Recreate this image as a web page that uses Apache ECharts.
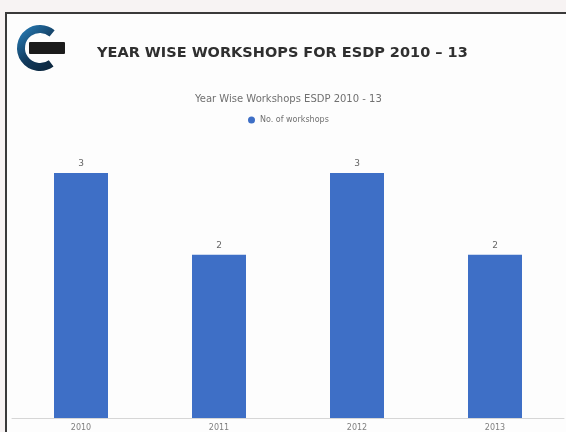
<!DOCTYPE html>
<html>
<head>
<meta charset="utf-8">
<script src="https://cdn.jsdelivr.net/npm/echarts@6/dist/echarts.min.js"></script>
<style>
  html, body { margin: 0; padding: 0; background: #f7f3f3; }
  #chart { width: 566px; height: 432px; }
</style>
</head>
<body>
<div id="chart"></div>
<script>
// Workshops held per year under ESDP
const years = ['2010', '2011', '2012', '2013'];
const workshops = [3, 2, 3, 2];
const seriesName = 'No. of workshops';
const slideTitle = 'YEAR WISE WORKSHOPS FOR ESDP 2010 \u2013 13';
const chartTitle = 'Year Wise Workshops ESDP 2010 - 13';

const chart = echarts.init(document.getElementById('chart'), null, { renderer: 'canvas' });

chart.setOption({
  backgroundColor: '#f7f3f3',
  animation: false,
  title: {
    text: chartTitle,
    left: 190,
    top: 89,
    textStyle: { fontFamily: 'DejaVu Sans', fontSize: 10, fontWeight: 'normal', color: '#707070' }
  },
  legend: {
    data: [seriesName],
    top: 111,
    left: 243,
    icon: 'circle',
    itemWidth: 7,
    itemHeight: 7,
    itemGap: 4,
    textStyle: { fontFamily: 'DejaVu Sans', fontSize: 8, color: '#707070' }
  },
  grid: { left: 12, right: 2, top: 173, bottom: 13 },
  xAxis: {
    type: 'category',
    data: years,
    axisTick: { show: false },
    axisLine: { lineStyle: { color: '#d6d6d6', width: 1 } },
    axisLabel: { fontFamily: 'DejaVu Sans', fontSize: 8, color: '#808080', margin: 6 }
  },
  yAxis: {
    type: 'value',
    min: 0,
    max: 3,
    interval: 1,
    show: false,
    splitLine: { show: false }
  },
  series: [{
    name: seriesName,
    type: 'bar',
    data: workshops,
    barWidth: 54,
    itemStyle: { color: '#3e6fc6' },
    label: {
      show: true,
      position: 'top',
      distance: 5,
      fontFamily: 'DejaVu Sans',
      fontSize: 9,
      color: '#666'
    }
  }],
  graphic: [
    // slide panel with dark frame on top and left
    { type: 'rect', z: -10, shape: { x: 6, y: 13, width: 562, height: 422 },
      style: { fill: '#fdfdfd' } },
    { type: 'line', z: 10, shape: { x1: 5, y1: 13, x2: 566, y2: 13 },
      style: { stroke: '#3a3a3a', lineWidth: 2 } },
    { type: 'line', z: 10, shape: { x1: 6, y1: 12, x2: 6, y2: 432 },
      style: { stroke: '#3a3a3a', lineWidth: 2 } },
    // logo: open ring with dark badge
    { type: 'arc', z: 10,
      shape: { cx: 40, cy: 48, r: 19, startAngle: Math.PI * 0.3, endAngle: Math.PI * 1.72, clockwise: true },
      style: {
        fill: null, lineWidth: 8,
        stroke: new echarts.graphic.LinearGradient(0, 0, 1, 1, [
          { offset: 0, color: '#2a86c4' },
          { offset: 0.55, color: '#123a5c' },
          { offset: 1, color: '#0b2236' }
        ])
      } },
    { type: 'rect', z: 11, shape: { x: 29, y: 42, width: 36, height: 12, r: 1 },
      style: { fill: '#1b1b1b' } },
    // slide heading
    { type: 'text', z: 10, left: 97, top: 46,
      style: { text: slideTitle, fontFamily: 'DejaVu Sans', fontWeight: 'bold', fontSize: 14.5, fill: '#2f2f2f' } }
  ]
});
</script>
</body>
</html>
